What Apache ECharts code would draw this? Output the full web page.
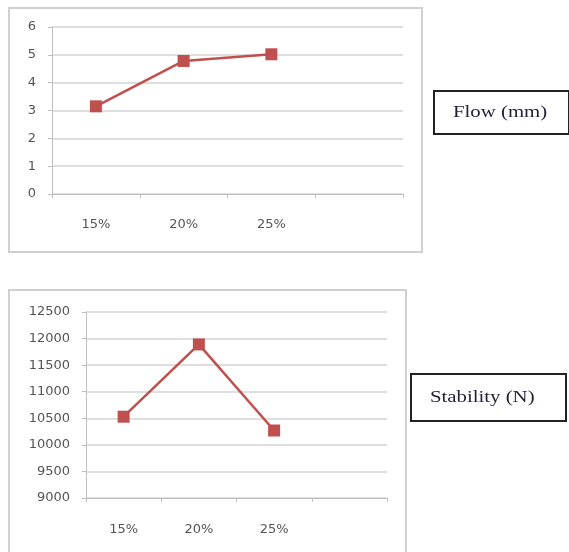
<!DOCTYPE html>
<html>
<head>
<meta charset="utf-8">
<script src="https://cdn.jsdelivr.net/npm/echarts@6/dist/echarts.min.js"></script>
<style>
  html, body { margin: 0; padding: 0; background: #fff; }
  #chart { width: 569px; height: 552px; }
</style>
</head>
<body>
<div id="chart"></div>
<script>
// Asphalt mix test results by additive content
const categories = ['15%', '20%', '25%', ''];
const flowValues = [3.15, 4.78, 5.02];
const stabilityValues = [10530, 11890, 10270];
const flowTicks = { min: 0, max: 6, interval: 1 };
const stabilityTicks = { min: 9000, max: 12500, interval: 500 };

const red = '#c0504d';
const tickFont = { color: '#555', fontSize: 13, fontFamily: 'DejaVu Sans' };

function xAxis(gridIndex, margin) {
  return {
    type: 'category', gridIndex, data: categories, boundaryGap: true,
    axisLine: { lineStyle: { color: '#bfbfbf', width: 1 } },
    axisTick: { show: true, length: 4, lineStyle: { color: '#bfbfbf' } },
    axisLabel: Object.assign({ margin }, tickFont),
    splitLine: { show: false }
  };
}
function yAxis(gridIndex, ticks) {
  return {
    type: 'value', gridIndex, min: ticks.min, max: ticks.max, interval: ticks.interval,
    axisLine: { show: true, lineStyle: { color: '#bfbfbf', width: 1 } },
    axisTick: { show: true, length: 4, lineStyle: { color: '#bfbfbf' } },
    axisLabel: Object.assign({ margin: 16, formatter: v => String(v) }, tickFont),
    splitLine: { lineStyle: { color: '#d4d4d4', width: 1.5 } }
  };
}
function series(idx, values) {
  return {
    type: 'line', xAxisIndex: idx, yAxisIndex: idx, data: values,
    symbol: 'rect', symbolSize: 12,
    lineStyle: { color: red, width: 2.5 },
    itemStyle: { color: red },
    animation: false
  };
}
function labelBox(x, y, w, h, text) {
  return {
    type: 'group', left: x, top: y,
    children: [
      { type: 'rect', shape: { x: 0, y: 0, width: w, height: h },
        style: { fill: '#fff', stroke: '#222', lineWidth: 2 } },
      { type: 'text', x: 19, y: h / 2, scaleX: 1.3,
        style: { text, font: '16px "Liberation Serif"', fill: '#231d35', verticalAlign: 'middle' } }
    ]
  };
}

const chart = echarts.init(document.getElementById('chart'), null, { renderer: 'canvas' });
chart.setOption({
  backgroundColor: '#fff',
  animation: false,
  grid: [
    { left: 52, top: 27, width: 351, height: 167 },
    { left: 86, top: 312, width: 301, height: 186 }
  ],
  xAxis: [xAxis(0, 24), xAxis(1, 25)],
  yAxis: [yAxis(0, flowTicks), yAxis(1, stabilityTicks)],
  series: [series(0, flowValues), series(1, stabilityValues)],
  graphic: [
    { type: 'rect', z: -1, shape: { x: 9, y: 8, width: 413, height: 244 },
      style: { fill: 'none', stroke: '#d0d0d0', lineWidth: 2 } },
    { type: 'rect', z: -1, shape: { x: 9, y: 290, width: 397, height: 280 },
      style: { fill: 'none', stroke: '#d0d0d0', lineWidth: 2 } },
    labelBox(433, 90, 135, 43, 'Flow (mm)'),
    labelBox(410, 373, 155, 47, 'Stability (N)')
  ]
});
</script>
</body>
</html>
